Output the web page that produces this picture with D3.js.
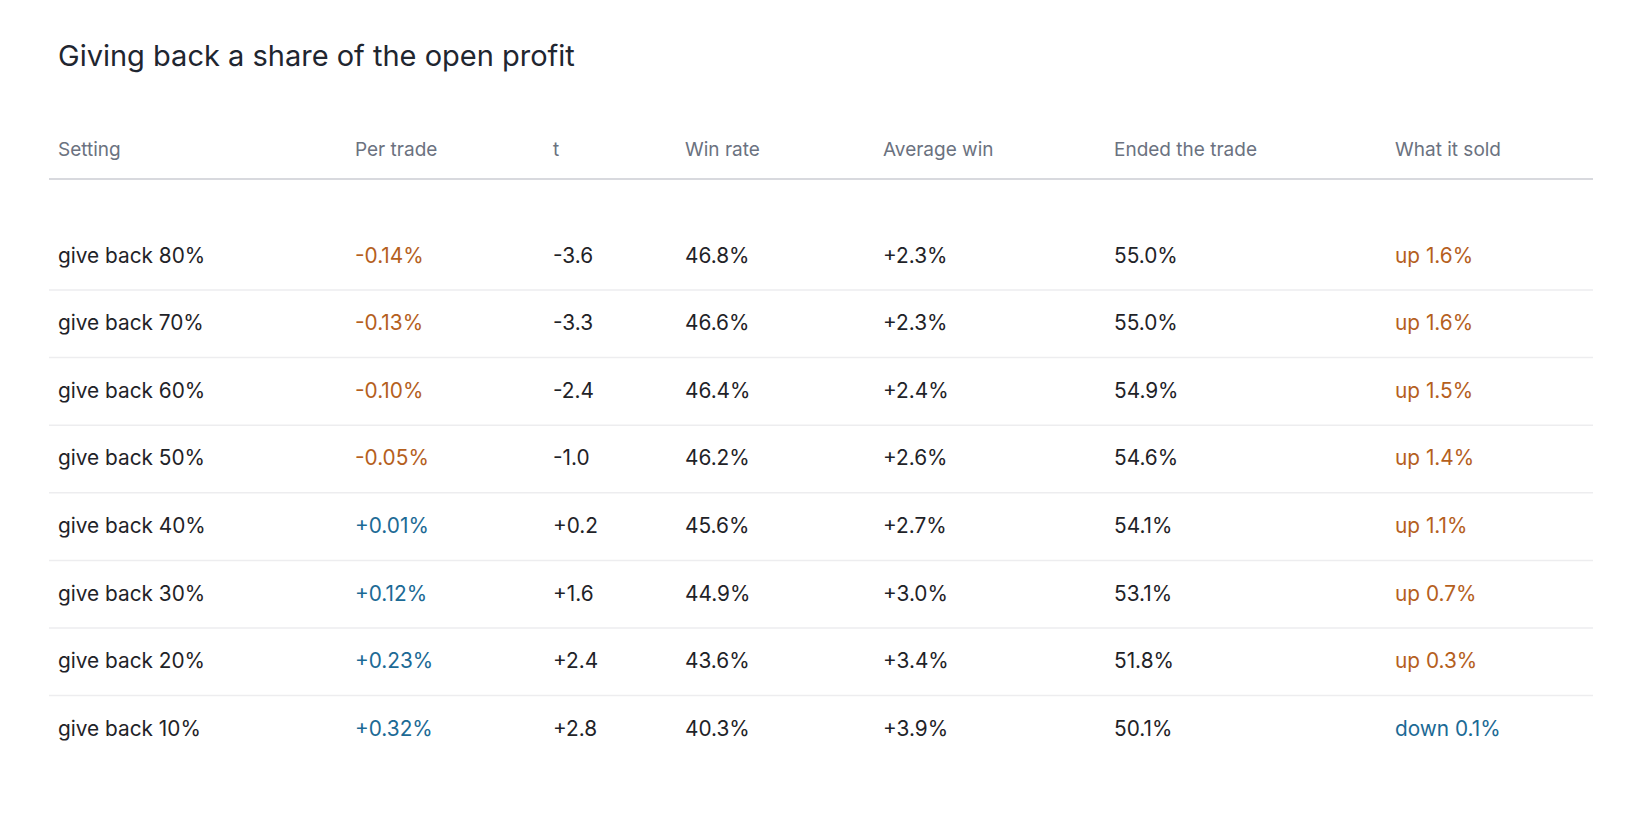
<!DOCTYPE html>
<html>
<head>
<meta charset="utf-8">
<script src="https://cdn.jsdelivr.net/npm/d3@7"></script>
<style>
  html, body { margin: 0; padding: 0; background: #fff; }
  svg { display: block; font-family: Inter, "Noto Sans", sans-serif; }
</style>
</head>
<body>
<div id="chart"></div>
<script>
"use strict";

// table content
const title = "Giving back a share of the open profit";
const columns = ["Setting", "Per trade", "t", "Win rate", "Average win", "Ended the trade", "What it sold"];
const settings = ["give back 80%", "give back 70%", "give back 60%", "give back 50%",
  "give back 40%", "give back 30%", "give back 20%", "give back 10%"];
const perTrade = [-0.14, -0.13, -0.10, -0.05, 0.01, 0.12, 0.23, 0.32];
const tStat = [-3.6, -3.3, -2.4, -1.0, 0.2, 1.6, 2.4, 2.8];
const winRate = [46.8, 46.6, 46.4, 46.2, 45.6, 44.9, 43.6, 40.3];
const avgWin = [2.3, 2.3, 2.4, 2.6, 2.7, 3.0, 3.4, 3.9];
const endedTrade = [55.0, 55.0, 54.9, 54.6, 54.1, 53.1, 51.8, 50.1];
const whatSold = [1.6, 1.6, 1.5, 1.4, 1.1, 0.7, 0.3, -0.1];

const width = 1650, height = 814;
const colX = [58, 355, 553, 685, 883, 1114, 1395];
const left = 49, right = 1593;
const rowTop = 222.4, rowH = 67.6;

const NEG = "#b5601d", POS = "#1c6a95", INK = "#1f2328";

const signed = (v, d) => (v > 0 ? "+" : "") + v.toFixed(d);

const rows = settings.map((s, i) => [
  { text: s, color: INK },
  { text: signed(perTrade[i], 2) + "%", color: perTrade[i] < 0 ? NEG : POS },
  { text: signed(tStat[i], 1), color: INK },
  { text: winRate[i].toFixed(1) + "%", color: INK },
  { text: "+" + avgWin[i].toFixed(1) + "%", color: INK },
  { text: endedTrade[i].toFixed(1) + "%", color: INK },
  {
    text: (whatSold[i] >= 0 ? "up " : "down ") + Math.abs(whatSold[i]).toFixed(1) + "%",
    color: whatSold[i] >= 0 ? NEG : POS
  }
]);

const svg = d3.select("#chart").append("svg")
  .attr("width", width)
  .attr("height", height);

svg.append("text")
  .attr("x", 58)
  .attr("y", 66)
  .attr("font-size", 29)
  .attr("fill", "#1f2630")
  .text(title);

// header
svg.append("g").selectAll("text")
  .data(columns)
  .join("text")
  .attr("x", (d, i) => colX[i])
  .attr("y", 156)
  .attr("font-size", 19)
  .attr("fill", "#6b7280")
  .text(d => d);

svg.append("line")
  .attr("x1", left).attr("x2", right)
  .attr("y1", 179).attr("y2", 179)
  .attr("stroke", "#d8d9de")
  .attr("stroke-width", 2);

// body rows
const y = d3.scaleBand()
  .domain(settings)
  .range([rowTop, rowTop + rowH * settings.length]);

const row = svg.append("g").selectAll("g")
  .data(rows)
  .join("g")
  .attr("transform", (d, i) => `translate(0,${y(settings[i])})`);

row.filter((d, i) => i > 0).append("line")
  .attr("x1", left).attr("x2", right)
  .attr("y1", 0).attr("y2", 0)
  .attr("stroke", "#ededef")
  .attr("stroke-width", 1.5);

row.selectAll("text")
  .data(d => d)
  .join("text")
  .attr("x", (d, i) => colX[i])
  .attr("y", y.bandwidth() / 2 + 6.5)
  .attr("font-size", 20.8)
  .attr("fill", d => d.color)
  .text(d => d.text);
</script>
</body>
</html>
